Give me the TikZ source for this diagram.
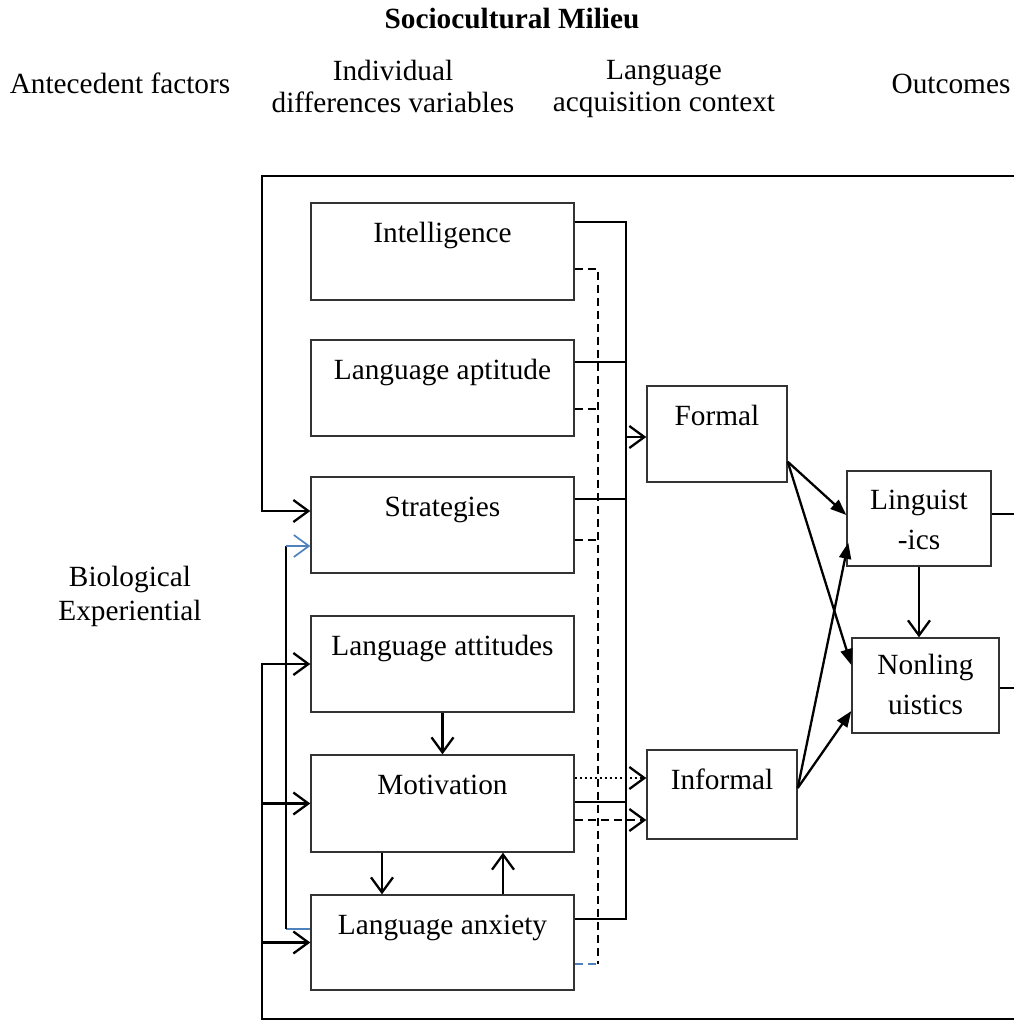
\documentclass[tikz,border=0pt]{standalone}
\usepackage{fontspec}
\setmainfont{Liberation Serif}
\usetikzlibrary{arrows.meta,calc}
\definecolor{lnblue}{RGB}{79,129,189}
\begin{document}
\begin{tikzpicture}[x=1pt,y=-1pt,
  box/.style={draw=black!80, line width=1.4pt, minimum width=263pt, minimum height=96pt, inner sep=0pt},
  conn/.style={line width=2.3pt},
  thinconn/.style={line width=1.7pt},
  open/.style={-{Straight Barb[length=15pt,width=22pt]}},
  tri/.style={-{Triangle[length=16pt,width=12pt]}},
  dsh/.style={dash pattern=on 8pt off 5pt},
  dts/.style={dash pattern=on 2.5pt off 2.5pt},
  txt/.style={font=\fontsize{29.3}{32}\selectfont, inner sep=0pt},
  txtb/.style={font=\fontsize{29.3}{40}\selectfont, inner sep=0pt, align=center}
]
\useasboundingbox (0,0) rectangle (1014,1021);

% headings
\node[txt, anchor=base, font=\fontsize{29.3}{32}\selectfont\bfseries] (title) at (512,28) {Sociocultural Milieu};
\node[txt, anchor=base] (hAnte) at (120,93) {Antecedent factors};
\node[txt, anchor=north, align=center] (hInd) at (393,60) {Individual\\differences variables};
\node[txt, anchor=north, align=center] (hLac) at (664,60) {Language\\acquisition context};
\node[txt, anchor=base] (hOut) at (951,93) {Outcomes};
\node[txt, anchor=north, align=center, font=\fontsize{29.3}{33.7}\selectfont] (hBio) at (130,566) {Biological\\Experiential};

% boxes
\node[box, minimum height=97pt] (intel) at (442.5,251.5) {};
\node[box] (apt) at (442.5,388) {};
\node[box] (strat) at (442.5,525) {};
\node[box] (att) at (442.5,664) {};
\node[box, minimum height=97pt] (mot) at (442.5,803.5) {};
\node[box, minimum height=95pt] (anx) at (442.5,942.5) {};
\node[box, minimum width=140pt] (formal) at (717,434) {};
\node[box, minimum width=150pt, minimum height=89pt] (informal) at (722,794.5) {};
\node[box, minimum width=144pt, minimum height=95pt] (ling) at (919,518.5) {};
\node[box, minimum width=147pt, minimum height=95pt] (nonling) at (925.5,685.5) {};

% box texts
\node[txt, anchor=base] (tIntel) at ($(intel.north)+(0,40)$) {Intelligence};
\node[txt, anchor=base] (tApt) at ($(apt.north)+(0,40)$) {Language aptitude};
\node[txt, anchor=base] (tStrat) at ($(strat.north)+(0,40)$) {Strategies};
\node[txt, anchor=base] (tAtt) at ($(att.north)+(0,40)$) {Language attitudes};
\node[txt, anchor=base] (tMot) at ($(mot.north)+(0,40)$) {Motivation};
\node[txt, anchor=base] (tAnx) at ($(anx.north)+(0,40)$) {Language anxiety};
\node[txt, anchor=base] (tFormal) at ($(formal.north)+(0,40)$) {Formal};
\node[txt, anchor=base] (tInformal) at ($(informal.north)+(0,40)$) {Informal};
\node[txtb, anchor=north] (tLing) at ($(ling.north)+(0,20)$) {Linguist\\-ics};
\node[txtb, anchor=north] (tNonling) at ($(nonling.north)+(0,17)$) {Nonling\\uistics};

% solid bus
\coordinate (sTop) at (626,222);
\coordinate (sApt) at (626,362);
\coordinate (sStr) at (626,499);
\coordinate (sMot) at (626,802);
\coordinate (sBot) at (626,919);
\coordinate (sF) at (626,437);
\draw[conn] (intel.east |- sTop) -- (sTop) -- (sBot) -- (anx.east |- sBot);
\draw[conn] (apt.east |- sApt) -- (sApt);
\draw[conn] (strat.east |- sStr) -- (sStr);
\draw[conn] (mot.east |- sMot) -- (sMot);
\draw[conn, open] (sF) -- (formal.west |- sF);

% dashed bus
\coordinate (dTop) at (598,269);
\coordinate (dApt) at (598,409);
\coordinate (dStr) at (598,540);
\coordinate (dBot) at (598,964);
\draw[conn, dsh] (intel.east |- dTop) -- (dTop) -- (dBot);
\draw[conn, dsh] (apt.east |- dApt) -- (dApt);
\draw[conn, dsh] (strat.east |- dStr) -- (dStr);
\draw[thinconn, dsh, lnblue] (anx.east |- dBot) -- (dBot);

% motivation to informal
\coordinate (iDot) at (610,778);
\coordinate (iDash) at (610,820);
\draw[conn, dts, open] (mot.east |- iDot) -- (informal.west |- iDot);
\draw[conn, dsh, open] (mot.east |- iDash) -- (informal.west |- iDash);

% outer frame
\coordinate (frTR) at (1014,176);
\coordinate (frTL) at (262,176);
\coordinate (frBL) at (262,1019);
\coordinate (frBR) at (1014,1019);
\draw[conn, open] (frTR) -- (frTL) |- ($(strat.west)+(0,-14)$);
\draw[conn, open] (frBR) -- (frBL) |- (att.west);
\draw[conn, open] (frBL |- mot.west) -- (mot.west);
\draw[conn, open] (frBL |- anx.west) -- (anx.west);

% blue feedback from anxiety to strategies
\coordinate (bT) at (286,546);
\coordinate (bB) at (286,929);
\draw[thinconn, lnblue] ($(anx.west)+(0,-13.5)$) -- (bB);
\draw[thinconn] (bB) -- (bT);
\draw[thinconn, lnblue, open] (bT) -- (strat.west |- bT);

% internal arrows
\draw[conn, open] (att.south) -- (mot.north);
\draw[conn, open] ($(mot.south)+(-60.5,0)$) -- ($(anx.north)+(-60.5,0)$);
\draw[conn, open] ($(anx.north)+(60.5,0)$) -- ($(mot.south)+(60.5,0)$);

% context to outcomes
\coordinate (fOut) at ($(formal.south east)+(0,-21)$);
\coordinate (iOut) at ($(informal.east)+(0,-6.5)$);
\draw[conn, tri] (fOut) -- ($(ling.west)+(0,-3.5)$);
\draw[conn, tri] (fOut) -- ($(nonling.west)+(0,-20.5)$);
\draw[conn, tri] (iOut) -- ($(ling.south west)+(2,-24)$);
\draw[conn, tri] (iOut) -- ($(nonling.west)+(0,25.5)$);
\draw[conn, open] (ling.south) -- (ling.south |- nonling.north);

% outcome lines to right edge
\coordinate (rL) at (1014,514);
\coordinate (rN) at (1014,688);
\draw[conn] (ling.east |- rL) -- (rL);
\draw[conn] (nonling.east |- rN) -- (rN);
\end{tikzpicture}
\end{document}
